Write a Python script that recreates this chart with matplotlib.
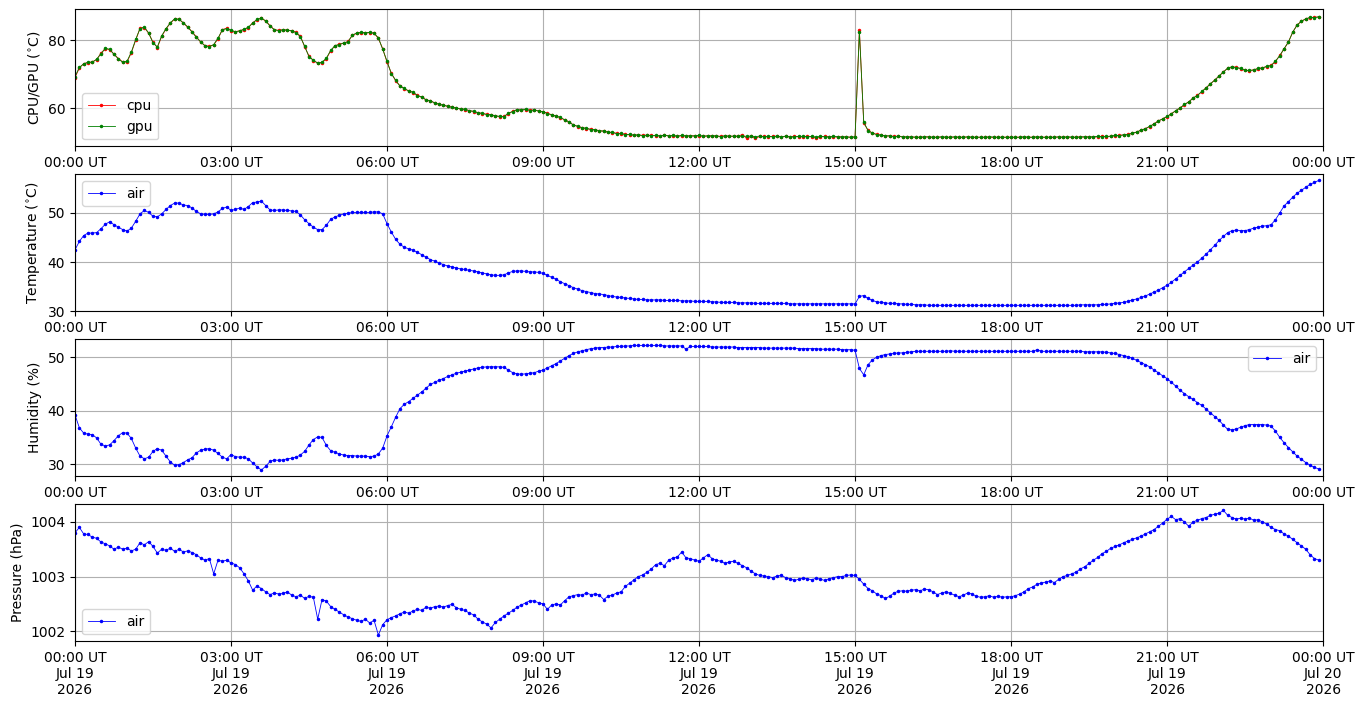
import matplotlib
matplotlib.use('Agg')
import matplotlib.pyplot as plt
import matplotlib.dates as mdates
from matplotlib.ticker import MultipleLocator
import numpy as np
import pandas as pd

# 5 minute samples, 2026-07-19 00:00 .. 23:55 UT
times = pd.date_range('2026-07-19 00:00', periods=288, freq='5min')

# one row per hour, 12 samples each
cpu = [
    69.0, 71.8, 73.1, 73.4, 73.6, 74.3, 76.2, 77.5, 77.2, 75.9, 74.6, 73.6,
    73.6, 76.3, 80.0, 83.5, 83.7, 82.0, 79.4, 77.8, 81.1, 83.3, 85.0, 86.2,
    86.2, 85.0, 83.8, 82.5, 81.0, 79.4, 78.4, 78.2, 78.6, 80.4, 83.1, 83.5,
    82.8, 82.4, 82.8, 83.1, 83.7, 85.1, 86.0, 86.5, 85.6, 84.3, 83.0, 82.9,
    83.0, 83.0, 82.7, 82.3, 81.2, 78.0, 75.3, 74.0, 73.3, 73.4, 74.5, 76.9,
    78.3, 78.8, 79.1, 79.6, 81.4, 82.0, 82.2, 82.2, 82.2, 82.1, 80.5, 77.5,
    73.5, 70.3, 68.0, 66.6, 65.7, 65.1, 64.6, 63.8, 63.2, 62.5, 62.1, 61.6,
    61.1, 60.9, 60.5, 60.3, 60.0, 59.8, 59.6, 59.3, 59.0, 58.7, 58.4, 58.2,
    58.0, 57.8, 57.5, 57.6, 58.4, 59.1, 59.5, 59.5, 59.6, 59.4, 59.4, 59.2,
    58.9, 58.5, 58.0, 57.7, 57.2, 56.6, 55.9, 55.1, 54.6, 54.3, 54.0, 53.8,
    53.6, 53.4, 53.2, 53.0, 52.8, 52.6, 52.5, 52.3, 52.2, 52.1, 52.1, 52.0,
    52.0, 52.0, 51.9, 51.9, 52.0, 51.9, 51.9, 51.8, 51.9, 51.9, 51.8, 51.9,
    51.9, 51.8, 51.8, 51.9, 51.8, 51.7, 51.8, 51.8, 51.7, 51.8, 52.2, 51.1,
    51.7, 51.1, 51.7, 51.7, 51.6, 51.7, 51.7, 51.6, 51.7, 51.6, 51.7, 51.6,
    51.6, 51.7, 51.6, 51.2, 51.6, 51.7, 51.6, 51.6, 51.5, 51.6, 51.5, 51.5,
    51.5, 83.0, 55.6, 53.5, 52.6, 52.3, 52.0, 51.9, 51.8, 51.7, 51.7, 51.6,
    51.5, 51.6, 51.4, 51.5, 51.5, 51.6, 51.4, 51.5, 51.5, 51.4, 51.5, 51.5,
    51.4, 51.5, 51.5, 51.4, 51.5, 51.4, 51.5, 51.5, 51.4, 51.5, 51.4, 51.5,
    51.5, 51.4, 51.5, 51.5, 51.4, 51.5, 51.5, 51.4, 51.5, 51.4, 51.5, 51.5,
    51.5, 51.5, 51.4, 51.5, 51.6, 51.5, 51.6, 51.5, 51.6, 51.7, 51.6, 51.8,
    51.9, 52.0, 52.1, 52.3, 52.6, 53.0, 53.5, 54.0, 54.6, 55.4, 56.2, 56.9,
    57.5, 58.4, 59.2, 60.1, 61.0, 61.9, 62.9, 63.8, 64.8, 66.0, 67.1, 68.3,
    69.4, 70.7, 71.7, 72.1, 72.0, 71.6, 71.2, 71.0, 71.3, 71.6, 71.9, 72.2,
    72.6, 73.7, 75.5, 77.4, 79.5, 82.3, 84.5, 85.5, 86.3, 86.6, 86.7, 86.8,
]

gpu = [
    69.3, 72.0, 73.0, 73.5, 73.5, 74.4, 76.0, 77.6, 77.3, 75.8, 74.5, 73.5,
    73.8, 76.5, 80.2, 83.4, 83.8, 82.1, 79.2, 78.0, 81.3, 83.4, 85.1, 86.3,
    86.1, 85.1, 83.9, 82.4, 80.8, 79.5, 78.3, 78.1, 78.7, 80.6, 83.0, 83.4,
    82.9, 82.5, 82.7, 83.2, 83.8, 85.0, 86.1, 86.4, 85.7, 84.1, 83.1, 82.8,
    83.1, 82.9, 82.8, 82.2, 81.0, 78.2, 75.1, 74.1, 73.2, 73.5, 74.7, 77.0,
    78.4, 78.7, 79.2, 79.5, 81.5, 82.1, 82.3, 82.1, 82.3, 82.0, 80.7, 77.3,
    73.8, 70.1, 68.2, 66.4, 65.8, 65.0, 64.7, 63.7, 63.3, 62.4, 62.2, 61.5,
    61.2, 60.8, 60.6, 60.2, 60.1, 59.7, 59.7, 59.2, 59.1, 58.6, 58.5, 58.1,
    58.1, 57.7, 57.6, 57.5, 58.5, 59.0, 59.6, 59.4, 59.7, 59.3, 59.5, 59.1,
    59.0, 58.4, 58.1, 57.6, 57.3, 56.5, 56.0, 55.0, 54.7, 54.2, 54.1, 53.7,
    53.7, 53.3, 53.3, 52.9, 52.9, 52.5, 52.6, 52.2, 52.3, 52.0, 52.2, 51.9,
    52.1, 51.9, 52.0, 51.8, 52.1, 51.8, 52.0, 51.7, 52.0, 51.8, 51.9, 51.8,
    52.0, 51.7, 51.9, 51.8, 51.9, 51.6, 51.9, 51.7, 51.8, 51.7, 51.8, 51.7,
    51.8, 51.6, 51.8, 51.6, 51.7, 51.6, 51.8, 51.5, 51.8, 51.5, 51.6, 51.7,
    51.7, 51.6, 51.7, 51.5, 51.7, 51.6, 51.5, 51.7, 51.6, 51.5, 51.6, 51.4,
    51.6, 82.5, 55.9, 53.4, 52.7, 52.2, 52.1, 51.8, 51.9, 51.6, 51.8, 51.5,
    51.6, 51.5, 51.5, 51.4, 51.6, 51.5, 51.5, 51.4, 51.6, 51.5, 51.4, 51.6,
    51.5, 51.4, 51.6, 51.5, 51.4, 51.5, 51.4, 51.6, 51.5, 51.4, 51.5, 51.4,
    51.4, 51.5, 51.4, 51.6, 51.5, 51.4, 51.6, 51.5, 51.4, 51.5, 51.4, 51.6,
    51.4, 51.6, 51.5, 51.4, 51.5, 51.6, 51.5, 51.6, 51.7, 51.6, 51.7, 51.7,
    52.0, 51.9, 52.2, 52.2, 52.7, 52.9, 53.6, 53.9, 54.7, 55.3, 56.3, 56.8,
    57.6, 58.3, 59.3, 60.0, 61.1, 61.8, 63.0, 63.7, 64.9, 65.9, 67.2, 68.2,
    69.5, 70.6, 71.8, 72.2, 71.9, 71.7, 71.1, 71.1, 71.2, 71.7, 71.8, 72.3,
    72.5, 73.8, 75.4, 77.5, 79.4, 82.4, 84.4, 85.6, 86.2, 86.7, 86.6, 86.9,
]

air_temp = [
    42.5, 44.2, 45.4, 45.9, 45.9, 46.0, 46.8, 47.7, 48.2, 47.6, 47.1, 46.6,
    46.3, 46.9, 48.3, 49.8, 50.5, 50.1, 49.3, 49.2, 49.8, 50.7, 51.5, 52.0,
    52.0, 51.6, 51.5, 51.0, 50.3, 49.8, 49.7, 49.7, 49.8, 50.2, 50.9, 51.2,
    50.5, 50.7, 51.0, 50.7, 51.3, 52.1, 52.2, 52.4, 51.5, 50.6, 50.5, 50.6,
    50.6, 50.5, 50.4, 50.3, 49.6, 48.6, 47.8, 47.1, 46.6, 46.6, 47.5, 48.7,
    49.2, 49.5, 49.8, 49.9, 50.1, 50.1, 50.1, 50.1, 50.1, 50.2, 50.2, 49.8,
    47.8, 46.1, 44.6, 43.6, 43.0, 42.7, 42.4, 42.0, 41.5, 41.0, 40.5, 40.2,
    39.8, 39.5, 39.2, 39.0, 38.8, 38.6, 38.5, 38.3, 38.2, 38.0, 37.8, 37.6,
    37.4, 37.3, 37.3, 37.4, 37.8, 38.1, 38.2, 38.2, 38.1, 38.0, 38.0, 37.9,
    37.7, 37.3, 36.9, 36.5, 36.0, 35.6, 35.2, 34.8, 34.5, 34.2, 34.0, 33.8,
    33.6, 33.5, 33.4, 33.2, 33.0, 32.9, 32.8, 32.7, 32.6, 32.5, 32.4, 32.4,
    32.3, 32.3, 32.3, 32.3, 32.2, 32.2, 32.2, 32.2, 32.1, 32.1, 32.1, 32.0,
    32.0, 32.0, 32.0, 31.9, 31.9, 31.8, 31.8, 31.8, 31.8, 31.7, 31.7, 31.7,
    31.7, 31.6, 31.6, 31.6, 31.6, 31.6, 31.6, 31.6, 31.6, 31.5, 31.5, 31.5,
    31.5, 31.5, 31.5, 31.5, 31.5, 31.5, 31.5, 31.5, 31.5, 31.5, 31.5, 31.5,
    31.5, 33.0, 33.2, 32.6, 32.2, 31.9, 31.8, 31.7, 31.6, 31.6, 31.5, 31.5,
    31.4, 31.4, 31.3, 31.3, 31.3, 31.2, 31.2, 31.2, 31.2, 31.2, 31.2, 31.2,
    31.2, 31.2, 31.2, 31.2, 31.2, 31.2, 31.2, 31.2, 31.2, 31.2, 31.2, 31.2,
    31.2, 31.2, 31.2, 31.2, 31.2, 31.2, 31.2, 31.2, 31.2, 31.2, 31.2, 31.2,
    31.2, 31.2, 31.2, 31.2, 31.3, 31.3, 31.3, 31.3, 31.3, 31.4, 31.4, 31.5,
    31.6, 31.7, 31.8, 32.0, 32.3, 32.5, 32.8, 33.1, 33.5, 33.9, 34.3, 34.8,
    35.3, 35.9, 36.6, 37.3, 38.0, 38.7, 39.4, 40.0, 40.8, 41.6, 42.5, 43.4,
    44.4, 45.2, 46.0, 46.4, 46.5, 46.4, 46.4, 46.6, 46.9, 47.1, 47.3, 47.4,
    47.6, 48.6, 50.0, 51.4, 52.3, 53.2, 54.0, 54.6, 55.2, 55.8, 56.2, 56.6,
]

humidity = [
    39.2, 36.8, 35.8, 35.6, 35.5, 34.9, 33.7, 33.4, 33.6, 34.4, 35.3, 35.9,
    35.8, 34.8, 33.0, 31.5, 31.0, 31.3, 32.4, 32.9, 32.6, 31.5, 30.4, 29.8,
    29.9, 30.3, 30.8, 31.2, 32.1, 32.6, 32.8, 32.9, 32.6, 32.0, 31.3, 31.0,
    31.8, 31.4, 31.3, 31.3, 31.0, 30.2, 29.5, 28.9, 29.6, 30.5, 30.8, 30.7,
    30.8, 31.0, 31.1, 31.3, 31.7, 32.4, 33.6, 34.6, 35.1, 35.0, 33.5, 32.5,
    32.2, 31.9, 31.7, 31.6, 31.6, 31.5, 31.5, 31.5, 31.4, 31.5, 31.9, 33.0,
    35.3, 37.0, 38.8, 40.4, 41.2, 41.7, 42.3, 42.9, 43.5, 44.2, 44.9, 45.3,
    45.7, 46.0, 46.4, 46.7, 47.0, 47.2, 47.4, 47.6, 47.8, 48.0, 48.1, 48.2,
    48.2, 48.2, 48.2, 48.1, 47.6, 47.1, 46.9, 46.8, 46.9, 47.0, 47.1, 47.4,
    47.6, 48.0, 48.4, 48.8, 49.3, 49.8, 50.3, 50.7, 51.0, 51.2, 51.4, 51.6,
    51.7, 51.8, 51.8, 51.9, 51.9, 52.0, 52.0, 52.1, 52.1, 52.2, 52.2, 52.2,
    52.2, 52.2, 52.2, 52.2, 52.1, 52.1, 52.1, 52.1, 52.1, 51.5, 52.0, 52.0,
    52.0, 52.0, 52.0, 51.9, 51.9, 51.9, 51.9, 51.9, 51.9, 51.8, 51.8, 51.8,
    51.8, 51.8, 51.8, 51.7, 51.7, 51.7, 51.7, 51.7, 51.7, 51.7, 51.7, 51.6,
    51.6, 51.6, 51.6, 51.6, 51.5, 51.5, 51.5, 51.5, 51.5, 51.4, 51.4, 51.4,
    51.3, 47.9, 46.7, 48.6, 49.5, 50.0, 50.3, 50.5, 50.6, 50.7, 50.8, 50.8,
    50.9, 51.0, 51.1, 51.1, 51.1, 51.1, 51.1, 51.1, 51.1, 51.1, 51.2, 51.1,
    51.1, 51.1, 51.1, 51.1, 51.1, 51.1, 51.1, 51.1, 51.1, 51.1, 51.1, 51.1,
    51.1, 51.1, 51.1, 51.1, 51.1, 51.1, 51.4, 51.1, 51.1, 51.1, 51.1, 51.1,
    51.1, 51.1, 51.1, 51.1, 51.1, 51.0, 51.0, 51.0, 51.0, 51.0, 50.9, 50.8,
    50.7, 50.5, 50.3, 50.1, 49.8, 49.4, 49.0, 48.6, 48.2, 47.6, 47.1, 46.5,
    46.0, 45.3, 44.6, 43.8, 43.2, 42.6, 42.1, 41.5, 41.0, 40.3, 39.6, 38.9,
    38.2, 37.3, 36.5, 36.4, 36.6, 36.9, 37.2, 37.4, 37.4, 37.4, 37.4, 37.3,
    37.1, 36.2, 35.0, 34.0, 33.1, 32.3, 31.5, 30.9, 30.3, 29.8, 29.4, 29.1,
]

pressure = [
    1003.80, 1003.90, 1003.78, 1003.77, 1003.72, 1003.70, 1003.63, 1003.60, 1003.56, 1003.50, 1003.54, 1003.50,
    1003.52, 1003.47, 1003.50, 1003.62, 1003.58, 1003.64, 1003.55, 1003.43, 1003.50, 1003.48, 1003.52, 1003.46,
    1003.50, 1003.45, 1003.47, 1003.44, 1003.40, 1003.34, 1003.30, 1003.33, 1003.05, 1003.30, 1003.28, 1003.30,
    1003.25, 1003.22, 1003.16, 1003.05, 1002.92, 1002.75, 1002.83, 1002.78, 1002.72, 1002.67, 1002.70, 1002.68,
    1002.69, 1002.72, 1002.66, 1002.63, 1002.66, 1002.60, 1002.64, 1002.62, 1002.22, 1002.58, 1002.55, 1002.45,
    1002.40, 1002.35, 1002.30, 1002.26, 1002.23, 1002.20, 1002.18, 1002.22, 1002.15, 1002.20, 1001.93, 1002.12,
    1002.21, 1002.25, 1002.28, 1002.32, 1002.35, 1002.33, 1002.37, 1002.40, 1002.38, 1002.44, 1002.42, 1002.45,
    1002.46, 1002.44, 1002.47, 1002.49, 1002.43, 1002.40, 1002.38, 1002.33, 1002.30, 1002.22, 1002.17, 1002.13,
    1002.06, 1002.16, 1002.22, 1002.28, 1002.33, 1002.38, 1002.44, 1002.48, 1002.52, 1002.56, 1002.55, 1002.52,
    1002.50, 1002.40, 1002.48, 1002.50, 1002.48, 1002.56, 1002.63, 1002.65, 1002.67, 1002.66, 1002.70, 1002.67,
    1002.68, 1002.66, 1002.58, 1002.64, 1002.66, 1002.70, 1002.72, 1002.82, 1002.88, 1002.94, 1003.00, 1003.03,
    1003.08, 1003.14, 1003.22, 1003.24, 1003.20, 1003.30, 1003.34, 1003.36, 1003.45, 1003.34, 1003.33, 1003.30,
    1003.28, 1003.34, 1003.40, 1003.33, 1003.30, 1003.28, 1003.24, 1003.27, 1003.28, 1003.24, 1003.20, 1003.16,
    1003.10, 1003.05, 1003.02, 1003.01, 1003.00, 1002.98, 1003.01, 1003.02, 1002.98, 1002.96, 1002.93, 1002.95,
    1002.97, 1002.96, 1002.94, 1002.97, 1002.95, 1002.93, 1002.96, 1002.98, 1003.00, 1003.00, 1003.02, 1003.03,
    1003.02, 1002.95, 1002.86, 1002.78, 1002.74, 1002.68, 1002.65, 1002.60, 1002.64, 1002.70, 1002.73, 1002.74,
    1002.73, 1002.75, 1002.76, 1002.74, 1002.77, 1002.76, 1002.72, 1002.67, 1002.70, 1002.72, 1002.69, 1002.66,
    1002.63, 1002.66, 1002.70, 1002.68, 1002.64, 1002.62, 1002.63, 1002.65, 1002.62, 1002.64, 1002.62, 1002.63,
    1002.63, 1002.65, 1002.68, 1002.72, 1002.78, 1002.81, 1002.86, 1002.88, 1002.90, 1002.92, 1002.89, 1002.95,
    1003.00, 1003.02, 1003.05, 1003.08, 1003.14, 1003.18, 1003.24, 1003.30, 1003.35, 1003.42, 1003.46, 1003.52,
    1003.55, 1003.58, 1003.62, 1003.65, 1003.68, 1003.71, 1003.74, 1003.78, 1003.82, 1003.86, 1003.92, 1003.98,
    1004.05, 1004.10, 1004.04, 1004.06, 1004.00, 1003.92, 1004.00, 1004.03, 1004.06, 1004.08, 1004.12, 1004.14,
    1004.16, 1004.21, 1004.12, 1004.08, 1004.05, 1004.07, 1004.05, 1004.07, 1004.03, 1004.04, 1004.00, 1003.96,
    1003.90, 1003.86, 1003.84, 1003.78, 1003.74, 1003.68, 1003.62, 1003.56, 1003.50, 1003.40, 1003.33, 1003.30,
]

fig, axs = plt.subplots(4, 1, figsize=(13.64, 7.07), dpi=100)
fig.subplots_adjust(left=0.055, right=0.97, top=0.987, bottom=0.093, hspace=0.204)

style = dict(marker='.', lw=0.6, ms=3)

axs[0].plot(times, cpu, color='red', label='cpu', **style)
axs[0].plot(times, gpu, color='green', label='gpu', **style)
axs[0].set_ylabel('CPU/GPU ($^{\\circ}$C)')
axs[0].legend(loc='lower left')
axs[0].set_ylim(48.8, 89.1)
axs[0].yaxis.set_major_locator(MultipleLocator(20))

axs[1].plot(times, air_temp, color='blue', label='air', **style)
axs[1].set_ylabel('Temperature ($^{\\circ}$C)')
axs[1].legend(loc='upper left')
axs[1].set_ylim(bottom=30)

axs[2].plot(times, humidity, color='blue', label='air', **style)
axs[2].set_ylabel('Humidity (%)')
axs[2].legend(loc='upper right')

axs[3].plot(times, pressure, color='blue', label='air', **style)
axs[3].set_ylabel('Pressure (hPa)')
axs[3].legend(loc='lower left')

start = pd.Timestamp('2026-07-19 00:00')
end = pd.Timestamp('2026-07-20 00:00')
for i, ax in enumerate(axs):
    ax.set_xlim(start, end)
    ax.xaxis.set_major_locator(mdates.HourLocator(byhour=range(0, 24, 3)))
    if i == 3:
        ax.xaxis.set_major_formatter(mdates.DateFormatter('%H:%M UT\n%b %d\n%Y'))
    else:
        ax.xaxis.set_major_formatter(mdates.DateFormatter('%H:%M UT'))
    ax.grid(True)

fig.savefig('out.png', dpi=100)
